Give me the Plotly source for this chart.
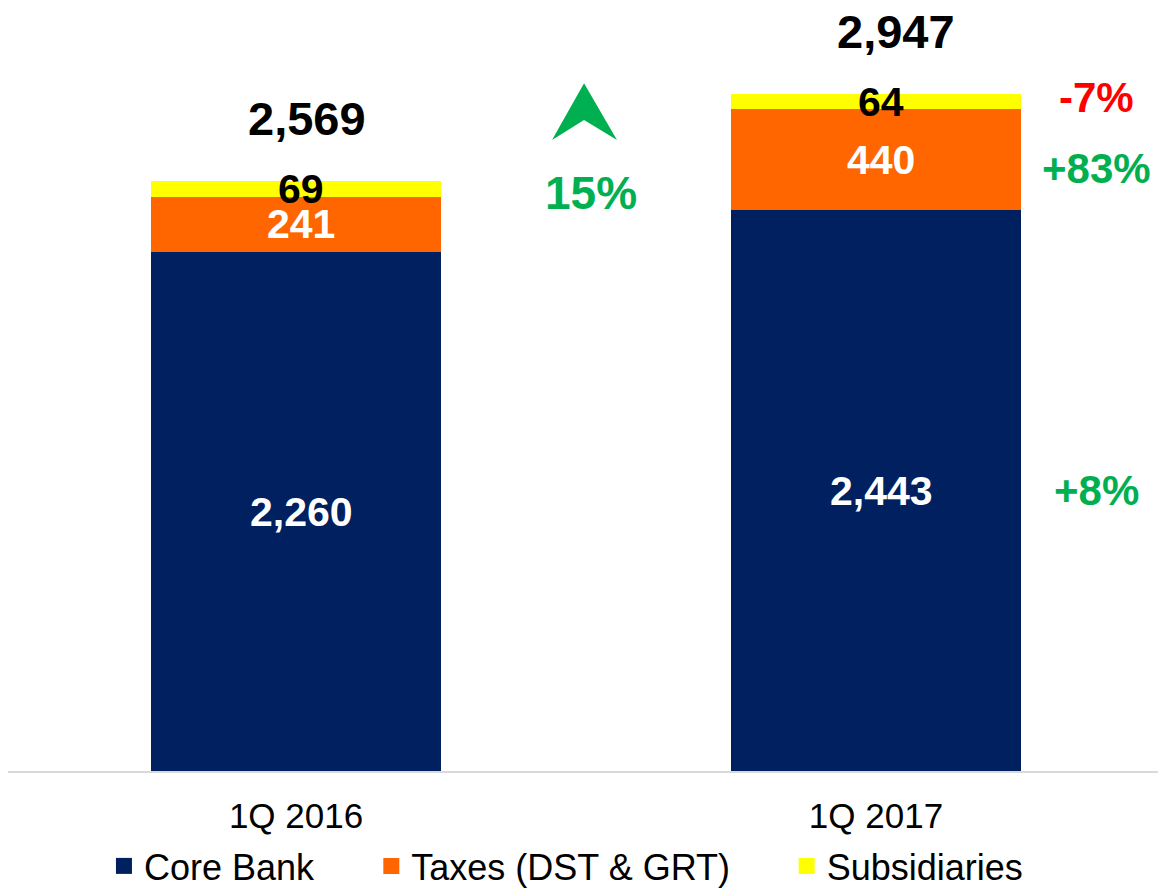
import plotly.graph_objects as go

categories = ["1Q 2016", "1Q 2017"]
core_bank = [2260, 2443]
taxes = [241, 440]
subsidiaries = [69, 64]
totals = [2569, 2947]
series_names = ["Core Bank", "Taxes (DST & GRT)", "Subsidiaries"]
series_colors = ["#002060", "#FF6600", "#FFFF00"]
label_colors = ["white", "white", "black"]
green = "#00B050"
red = "#FF0000"
FONT = "Arial, Liberation Sans, sans-serif"

series = [core_bank, taxes, subsidiaries]

fig = go.Figure()
for name, vals, col in zip(series_names, series, series_colors):
    fig.add_trace(go.Bar(
        x=categories, y=vals, name=name, marker=dict(color=col, line=dict(width=0)),
        width=0.5, showlegend=False, hoverinfo="skip",
    ))
# legend entries (square keys)
legends = ["legend", "legend2", "legend3"]
for name, col, lg in zip(series_names, series_colors, legends):
    fig.add_trace(go.Scatter(
        x=[None], y=[None], mode="markers", name=name, legend=lg,
        marker=dict(symbol="square", size=19, color=col, line=dict(width=0)),
        hoverinfo="skip",
    ))

annotations = []
# segment value labels
for si, (vals, lc) in enumerate(zip(series, label_colors)):
    for ci, cat in enumerate(categories):
        base = sum(series[k][ci] for k in range(si))
        annotations.append(dict(
            x=cat, y=base + vals[ci] / 2, text=f"<b>{vals[ci]:,}</b>",
            showarrow=False, xshift=5, font=dict(family=FONT, size=41, color=lc),
        ))
# totals
tot_xshift = [11, 20]
for ci, cat in enumerate(categories):
    annotations.append(dict(
        x=cat, y=totals[ci], yshift=63, xshift=tot_xshift[ci], text=f"<b>{totals[ci]:,}</b>",
        showarrow=False, font=dict(family=FONT, size=47, color="black"),
    ))
# change percentages beside 2017 bar
pct_shift = [0, -9, 4]
for si, vals in enumerate(series):
    base = sum(series[k][1] for k in range(si))
    chg = round((vals[1] / vals[0] - 1) * 100)
    txt = f"+{chg}%" if chg > 0 else f"{chg}%"
    annotations.append(dict(
        x=1.38, y=base + vals[1] / 2, yshift=pct_shift[si], text=f"<b>{txt}</b>",
        showarrow=False, font=dict(family=FONT, size=42, color=green if chg > 0 else red),
    ))
total_chg = round((totals[1] / totals[0] - 1) * 100)
annotations.append(dict(
    x=0.5, y=2517, xshift=5, text=f"<b>{total_chg}%</b>", showarrow=False,
    font=dict(family=FONT, size=46, color=green),
))

# green up arrow
shapes = [dict(
    type="path", xref="x", yref="y",
    path="M 0.4966 2996 L 0.5534 2748 L 0.4966 2835 L 0.4414 2748 Z",
    fillcolor=green, line=dict(width=0),
)]

leg_common = dict(orientation="h", yanchor="middle", y=-0.1265, xanchor="left",
                  font=dict(family=FONT, size=36, color="black"),
                  bgcolor="rgba(0,0,0,0)", itemclick=False, itemdoubleclick=False)

fig.update_layout(
    width=1166, height=894,
    margin=dict(l=0, r=0, t=12, b=131),
    paper_bgcolor="white", plot_bgcolor="white",
    barmode="stack", bargap=0,
    showlegend=True,
    legend=dict(x=0.0823, **leg_common),
    legend2=dict(x=0.3116, **leg_common),
    legend3=dict(x=0.6678, **leg_common),
    xaxis=dict(
        type="category", range=[-0.4966, 1.5138], showgrid=False, zeroline=False,
        showline=True, linecolor="#D9D9D9", linewidth=2,
        tickfont=dict(family=FONT, size=35, color="black"), ticks="",
        ticklabelstandoff=13,
    ),
    yaxis=dict(range=[0, 3271], visible=False, showgrid=False, zeroline=False),
    annotations=annotations,
    shapes=shapes,
    font=dict(family=FONT),
)

fig.write_html("out.html")
